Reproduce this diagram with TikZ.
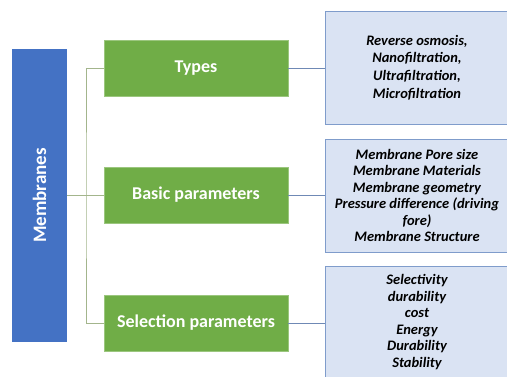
\documentclass[tikz,border=0pt]{standalone}
\usepackage{fontspec}
\setmainfont{Carlito}
\definecolor{memblue}{HTML}{4472C4}
\definecolor{grpgreen}{HTML}{70AD47}
\definecolor{itemfill}{HTML}{DAE3F3}
\definecolor{itemline}{HTML}{7F9CCB}
\definecolor{linkgreen}{HTML}{A3B58C}
\definecolor{linkblue}{HTML}{6F89B5}
\begin{document}
\begin{tikzpicture}[x=1pt, y=-1pt,
    rootbox/.style={fill=memblue, text=white, font=\bfseries\fontsize{19}{22}\selectfont, minimum width=55pt, minimum height=293pt, inner sep=0pt},
    groupbox/.style={fill=grpgreen, draw=grpgreen!70!white, text=white, font=\bfseries\fontsize{18}{21}\selectfont, minimum width=184pt, minimum height=56pt, inner sep=0pt},
    itembox/.style={fill=itemfill, draw=itemline, line width=0.8pt, font=\bfseries\itshape\fontsize{14.5}{16.5}\selectfont, align=center, minimum width=184pt, inner sep=0pt},
    trunk/.style={draw=linkgreen, line width=0.8pt},
    leaf/.style={draw=linkblue, line width=0.9pt}]
  \useasboundingbox (0,0) rectangle (507,376);
  \node[rootbox] (mem) at (39.5,195.5) {\rotatebox{90}{Membranes}};
  \node[groupbox] (types) at (196,68) {Types};
  \node[groupbox] (basic) at (196,195) {Basic parameters};
  \node[groupbox] (sel) at (196,323) {Selection parameters};
  \node[itembox, minimum height=113pt, font=\bfseries\itshape\fontsize{14.5}{17.7}\selectfont] (kinds) at (417,67.5)
    {Reverse osmosis,\\ Nanofiltration,\\ Ultrafiltration,\\ Microfiltration};
  \node[itembox, minimum height=113pt] (params) at (417,195.5)
    {Membrane Pore size\\ Membrane Materials\\ Membrane geometry\\ Pressure difference (driving\\ fore)\\ Membrane Structure};
  \node[itembox, minimum height=112pt] (crit) at (417,322)
    {Selectivity\\ durability\\ cost\\ Energy\\ Durability\\ Stability};
  % tree lines
  \coordinate (fork) at (86,195);
  \draw[trunk] (mem.east |- fork) -- (basic.west);
  \draw[trunk] (types.west) -| (fork) |- (sel.west);
  \draw[leaf] (types.east) -- (types.east -| kinds.west);
  \draw[leaf] (basic.east) -- (basic.east -| params.west);
  \draw[leaf] (sel.east) -- (sel.east -| crit.west);
\end{tikzpicture}
\end{document}
